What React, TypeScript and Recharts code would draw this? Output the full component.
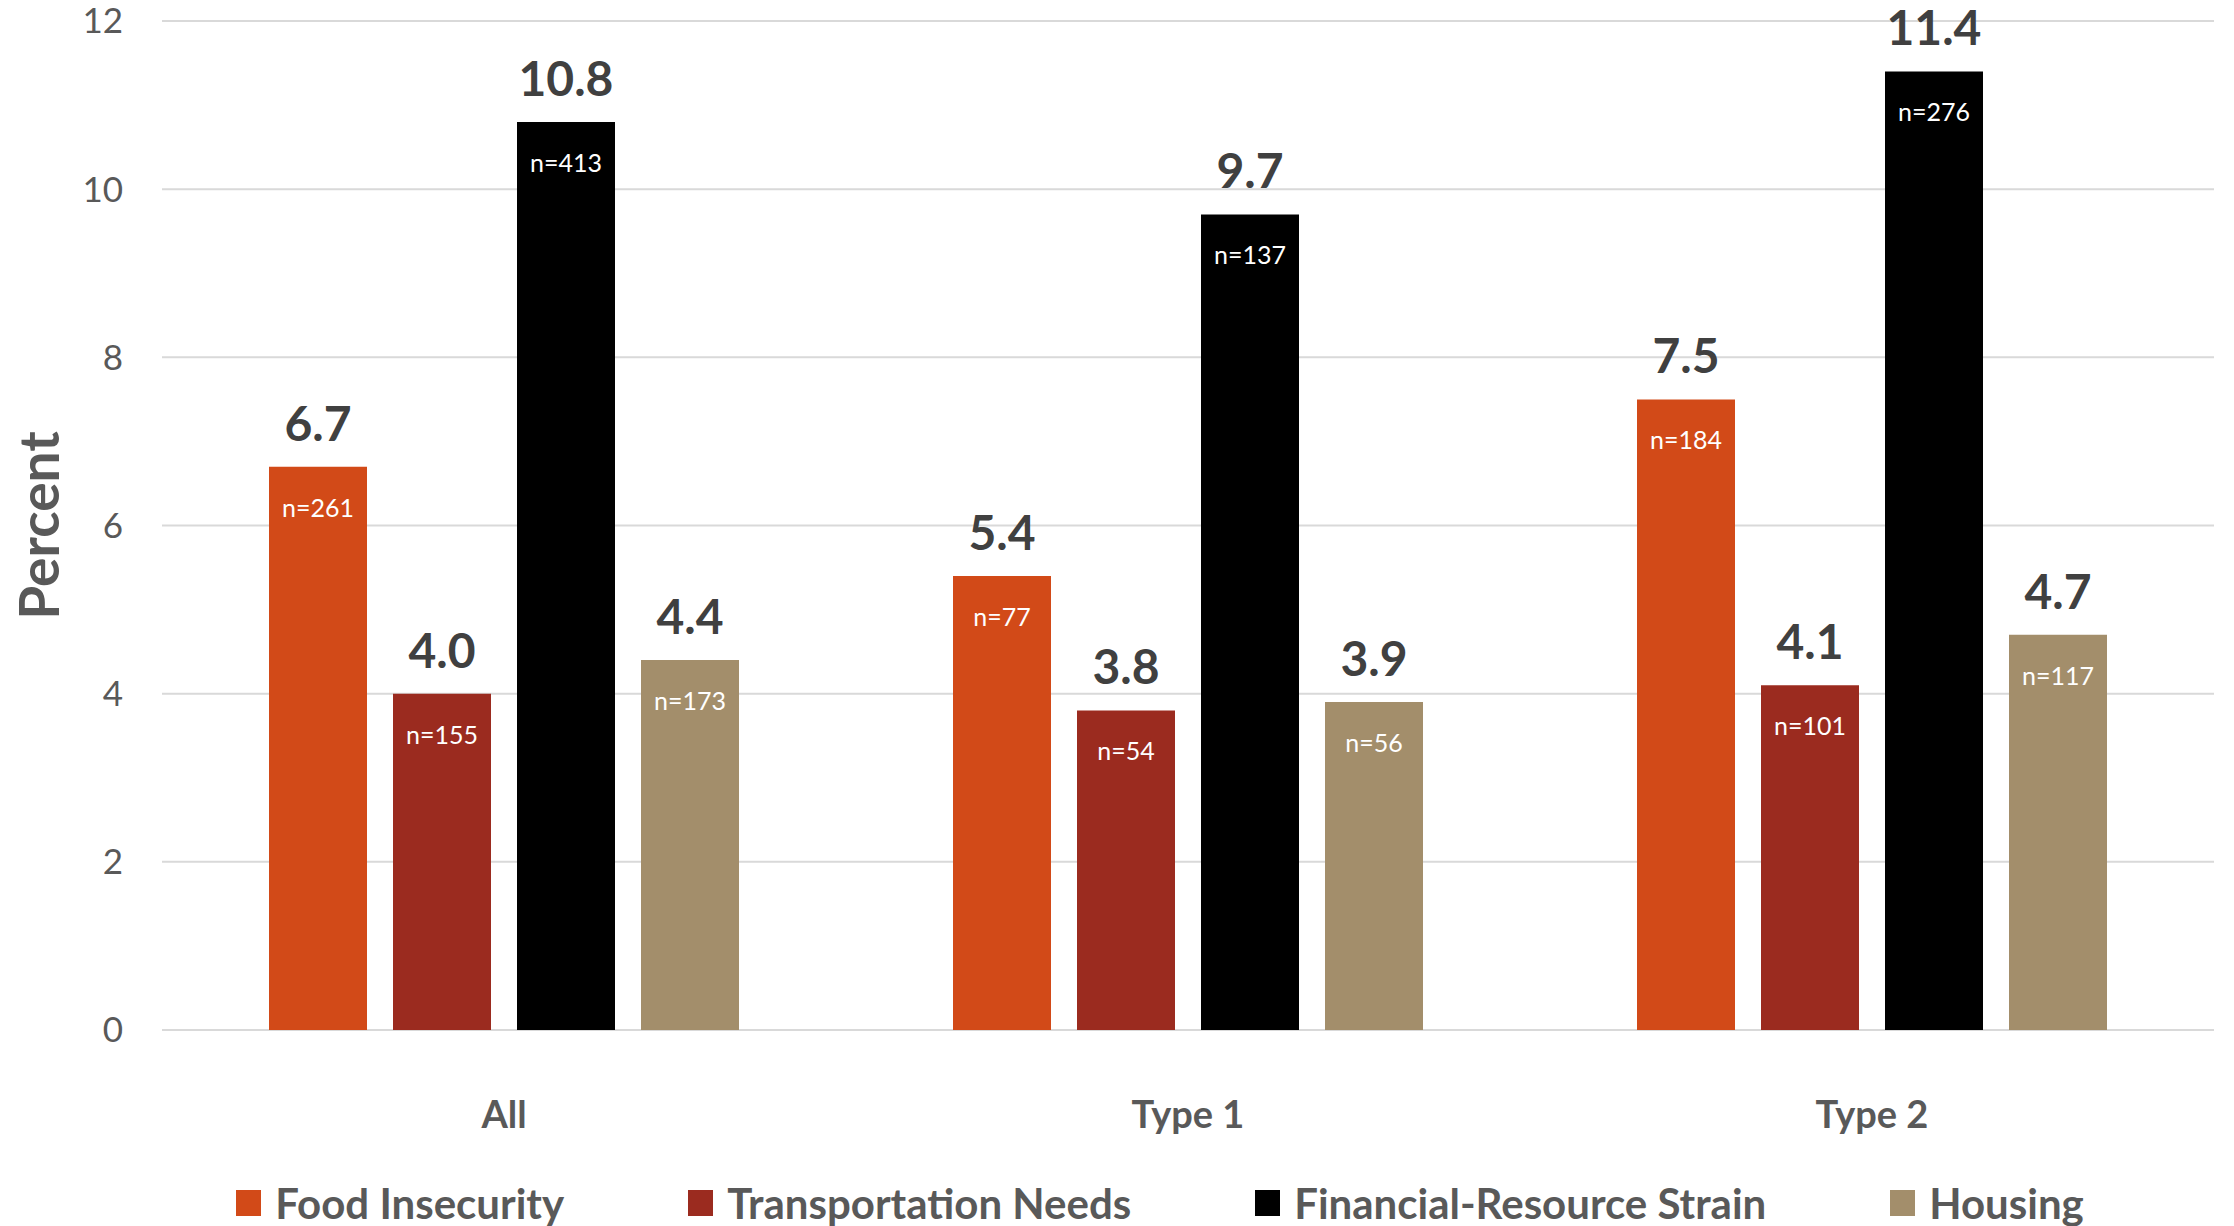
import React from 'react';
import { BarChart, Bar, XAxis, YAxis, CartesianGrid, Legend, LabelList, Label } from 'recharts';

// Diabetes groups on the x axis
const groups = ['All', 'Type 1', 'Type 2'];

// Percent of patients reporting each social need
const foodInsecurity = [6.7, 5.4, 7.5];
const transportationNeeds = [4.0, 3.8, 4.1];
const financialStrain = [10.8, 9.7, 11.4];
const housing = [4.4, 3.9, 4.7];

// Number of patients behind each percentage
const foodInsecurityN = [261, 77, 184];
const transportationNeedsN = [155, 54, 101];
const financialStrainN = [413, 137, 276];
const housingN = [173, 56, 117];

const yTicks = [0, 2, 4, 6, 8, 10, 12];

const series = [
  { key: 'food', nKey: 'foodN', name: 'Food Insecurity', color: '#D24A18' },
  { key: 'transport', nKey: 'transportN', name: 'Transportation Needs', color: '#9B2B1F' },
  { key: 'financial', nKey: 'financialN', name: 'Financial-Resource Strain', color: '#000000' },
  { key: 'housing', nKey: 'housingN', name: 'Housing', color: '#A38E6B' },
];

const data = groups.map((group, i) => ({
  group,
  food: foodInsecurity[i],
  transport: transportationNeeds[i],
  financial: financialStrain[i],
  housing: housing[i],
  foodN: foodInsecurityN[i],
  transportN: transportationNeedsN[i],
  financialN: financialStrainN[i],
  housingN: housingN[i],
}));

const FONT = 'Lato, "Open Sans", sans-serif';
const AXIS_TEXT = '#595959';

const ValueLabel = (props: any) => {
  const { x, y, width, value } = props;
  return (
    <text
      x={Number(x) + Number(width) / 2}
      y={Number(y) - 26}
      textAnchor="middle"
      fontFamily={FONT}
      fontWeight={700}
      fontSize={48}
      fill="#404040"
    >
      {Number(value).toFixed(1)}
    </text>
  );
};

const CountLabel = (props: any) => {
  const { x, y, width, value } = props;
  return (
    <text
      x={Number(x) + Number(width) / 2}
      y={Number(y) + 40}
      textAnchor="middle"
      dominantBaseline="central"
      fontFamily={FONT}
      fontSize={25}
      fill="#FFFFFF"
    >
      {`n=${value}`}
    </text>
  );
};

// Legend keeps the series order (food, transport, financial, housing)
const LegendContent = (props: any) => {
  const payload: any[] = props.payload || [];
  const ordered = series
    .map((s) => payload.find((p) => p.value === s.name) || { value: s.name, color: s.color })
    .filter(Boolean);
  return (
    <div style={{ display: 'flex', justifyContent: 'center', alignItems: 'center', gap: 124 }}>
      {ordered.map((entry: any) => (
        <div key={entry.value} style={{ display: 'flex', alignItems: 'center' }}>
          <span style={{ display: 'inline-block', width: 25, height: 26, background: entry.color, marginRight: 14 }} />
          <span style={{ fontFamily: FONT, fontWeight: 700, fontSize: 42, lineHeight: '46px', color: AXIS_TEXT }}>
            {entry.value}
          </span>
        </div>
      ))}
    </div>
  );
};

const PercentLabel = (props: any) => {
  const { viewBox } = props;
  const cy = viewBox.y + viewBox.height / 2;
  return (
    <text
      x={38}
      y={cy}
      transform={`rotate(-90, 38, ${cy})`}
      textAnchor="middle"
      dominantBaseline="central"
      fontFamily={FONT}
      fontWeight={700}
      fontSize={55}
      fill={AXIS_TEXT}
    >
      Percent
    </text>
  );
};

export default function App() {
  return (
    <div style={{ position: 'absolute', left: 0, top: 0, width: 2234, height: 1226, background: '#FFFFFF' }}>
      <BarChart
        width={2234}
        height={1226}
        data={data}
        margin={{ top: 21, right: 20, bottom: 0, left: 0 }}
        barCategoryGap={107}
        barGap={26}
      >
        <CartesianGrid vertical={false} stroke="#D9D9D9" strokeWidth={2} />
        <XAxis
          dataKey="group"
          height={196}
          axisLine={false}
          tickLine={false}
          tickSize={0}
          tickMargin={71}
          tick={{ fontFamily: FONT, fontWeight: 700, fontSize: 38, fill: AXIS_TEXT }}
        />
        <YAxis
          width={162}
          domain={[0, 12]}
          ticks={yTicks}
          axisLine={false}
          tickLine={false}
          tickSize={0}
          tickMargin={39}
          tick={{ fontFamily: FONT, fontSize: 35, fill: AXIS_TEXT }}
        >
          <Label content={PercentLabel} />
        </YAxis>
        <Legend
          layout="horizontal"
          verticalAlign="middle"
          align="center"
          content={LegendContent}
          wrapperStyle={{ position: 'absolute', top: 1180, left: 86, width: 2148 }}
        />
        {series.map((s) => (
          <Bar key={s.key} dataKey={s.key} name={s.name} fill={s.color} isAnimationActive={false}>
            <LabelList dataKey={s.key} content={ValueLabel} />
            <LabelList dataKey={s.nKey} content={CountLabel} />
          </Bar>
        ))}
      </BarChart>
    </div>
  );
}
